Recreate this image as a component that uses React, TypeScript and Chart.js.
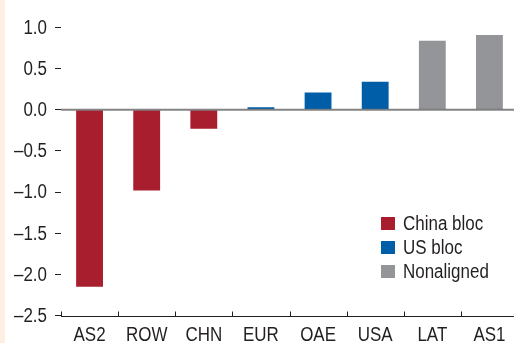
import React, { useEffect, useRef } from "react";
import { Chart, registerables } from "chart.js";

Chart.register(...registerables);

const categories = ["AS2", "ROW", "CHN", "EUR", "OAE", "USA", "LAT", "AS1"];
const values = [-2.15, -0.98, -0.23, 0.03, 0.21, 0.34, 0.84, 0.91];
const blocOf = ["China bloc", "China bloc", "China bloc", "US bloc", "US bloc", "US bloc", "Nonaligned", "Nonaligned"];
const blocNames = ["China bloc", "US bloc", "Nonaligned"];
const blocColors = ["#A91E2E", "#005DA8", "#939598"];
const yTicks = [-2.5, -2.0, -1.5, -1.0, -0.5, 0.0, 0.5, 1.0];

const FONT = '"Liberation Sans", Arial, sans-serif';
const FONT_SIZE = 19.5;
const SQUEEZE = 0.87;
const TEXT = "#231F20";

const fmt = (v: number) => v.toFixed(1).replace("-", "\u2013");

const overlayPlugin = {
  id: "overlay",
  afterDatasetsDraw(chart: any) {
    const { ctx, chartArea } = chart;
    const y = chart.scales.y;
    const x = chart.scales.x;
    ctx.save();
    // zero line
    const y0 = y.getPixelForValue(0);
    ctx.strokeStyle = "rgba(110,110,110,0.85)";
    ctx.lineWidth = 2;
    ctx.beginPath();
    ctx.moveTo(chartArea.left, y0);
    ctx.lineTo(chartArea.right, y0);
    ctx.stroke();
    // x axis line and upward ticks
    ctx.strokeStyle = "#231F20";
    ctx.lineWidth = 1;
    const b = Math.round(chartArea.bottom) + 0.5;
    ctx.beginPath();
    ctx.moveTo(chartArea.left, b);
    ctx.lineTo(chartArea.right, b);
    const n = categories.length;
    for (let i = 0; i <= n; i++) {
      const px = Math.round(x.left + (i * x.width) / n) + 0.5;
      ctx.moveTo(px, b);
      ctx.lineTo(px, b - 5);
    }
    ctx.stroke();

    // tick labels (condensed text)
    ctx.fillStyle = TEXT;
    ctx.font = `${FONT_SIZE}px ${FONT}`;
    ctx.textBaseline = "middle";
    ctx.textAlign = "right";
    yTicks.forEach((v) => {
      const py = y.getPixelForValue(v);
      ctx.save();
      ctx.translate(47, py + 1);
      ctx.scale(SQUEEZE, 1);
      ctx.fillText(fmt(v), 0, 0);
      ctx.restore();
    });
    ctx.textAlign = "center";
    ctx.textBaseline = "alphabetic";
    categories.forEach((c, i) => {
      const px = x.getPixelForValue(i);
      ctx.save();
      ctx.translate(px, 341);
      ctx.scale(SQUEEZE, 1);
      ctx.fillText(c, 0, 0);
      ctx.restore();
    });
    ctx.restore();
  },
};

export default function App() {
  const ref = useRef<HTMLCanvasElement | null>(null);

  useEffect(() => {
    document.body.style.margin = "0";
    const datasets = blocNames.map((name, k) => ({
      label: name,
      data: values.map((v, i) => (blocOf[i] === name ? v : null)),
      backgroundColor: blocColors[k],
      borderWidth: 0,
      barPercentage: 0.47,
      categoryPercentage: 1,
      grouped: false,
    }));
    const chart = new Chart(ref.current as HTMLCanvasElement, {
      type: "bar",
      data: { labels: categories, datasets },
      options: {
        animation: false,
        responsive: false,
        maintainAspectRatio: false,
        layout: { padding: { top: 27.5, left: 0, right: 1, bottom: 0 } },
        plugins: { legend: { display: false }, tooltip: { enabled: false } },
        scales: {
          x: {
            offset: true,
            grid: { display: false, drawTicks: false },
            border: { display: false },
            ticks: { display: false },
            afterFit: (s: any) => {
              s.height = 27.5;
            },
          },
          y: {
            min: -2.5,
            max: 1.0,
            afterBuildTicks: (s: any) => {
              s.ticks = yTicks.map((v) => ({ value: v }));
            },
            grid: { drawOnChartArea: false, drawTicks: true, tickLength: 6, color: "#231F20", lineWidth: 1 },
            border: { display: false },
            ticks: { display: false },
            afterFit: (s: any) => {
              s.width = 61;
            },
          },
        },
      },
      plugins: [overlayPlugin],
    });
    return () => chart.destroy();
  }, []);

  return (
    <div
      style={{
        position: "relative",
        width: 514,
        height: 343,
        overflow: "hidden",
        background: "#FFFFFF",
      }}
    >
      <canvas ref={ref} width={519} height={343} style={{ position: "absolute", left: 0, top: 0 }} />
      <div style={{ position: "absolute", left: 0, top: 0, width: 5, height: 343, background: "#FDEFE2" }} />
      {blocNames.map((name, k) => (
        <div
          key={name}
          style={{
            position: "absolute",
            left: 381,
            top: 212 + k * 24,
            height: 22,
            display: "flex",
            alignItems: "center",
            fontFamily: FONT,
            fontSize: FONT_SIZE,
            color: TEXT,
            whiteSpace: "nowrap",
          }}
        >
          <span style={{ display: "inline-block", width: 14, height: 13, background: blocColors[k], marginRight: 8 }} />
          <span style={{ display: "inline-block", transform: `scaleX(${SQUEEZE})`, transformOrigin: "left center" }}>
            {name}
          </span>
        </div>
      ))}
    </div>
  );
}
